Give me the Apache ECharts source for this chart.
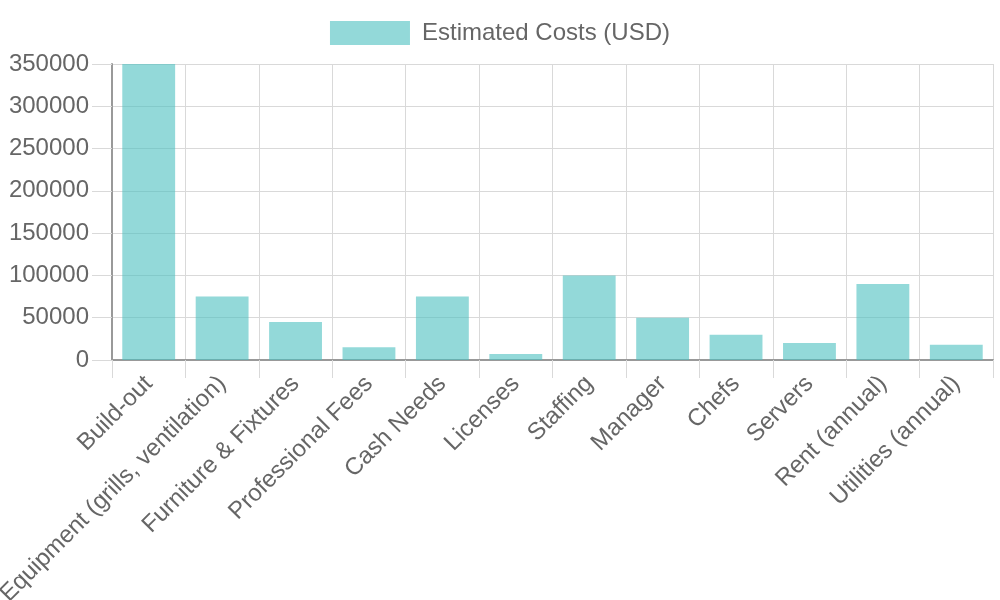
<!DOCTYPE html>
<html>
<head>
<meta charset="utf-8">
<script src="https://cdn.jsdelivr.net/npm/echarts@6/dist/echarts.min.js"></script>
<style>
  html, body { margin: 0; padding: 0; background: #fff; }
  #chart { width: 1000px; height: 600px; }
</style>
</head>
<body>
<div id="chart"></div>
<script>
// categories and values
const categories = ['Build-out', 'Equipment (grills, ventilation)', 'Furniture & Fixtures',
  'Professional Fees', 'Cash Needs', 'Licenses', 'Staffing', 'Manager', 'Chefs',
  'Servers', 'Rent (annual)', 'Utilities (annual)'];
const costs = [350000, 75000, 45000, 15000, 75000, 7000, 100000, 50000, 30000, 20000, 90000, 18000];
const yTicks = { min: 0, max: 350000, interval: 50000 };

const textColor = '#666';
const fontFamily = 'Liberation Sans, Arial, sans-serif';

let chart = echarts.init(document.getElementById('chart'));
chart.setOption({
  animation: false,
  textStyle: { fontFamily: fontFamily },
  legend: {
    top: 16,
    left: 'center',
    icon: 'rect',
    itemWidth: 80,
    itemHeight: 24,
    textStyle: { fontSize: 24, color: textColor, fontFamily: fontFamily, padding: [0, 0, 0, 7] },
    data: ['Estimated Costs (USD)']
  },
  grid: { left: 112, right: 7, top: 64, bottom: 240, containLabel: false, outerBoundsMode: 'none' },
  xAxis: {
    type: 'category',
    data: categories,
    boundaryGap: true,
    axisLine: { lineStyle: { color: '#999', width: 2 } },
    axisTick: { show: true, length: 18, alignWithLabel: false, lineStyle: { color: '#d9d9d9' } },
    splitLine: { show: true, lineStyle: { color: '#d9d9d9' } },
    axisLabel: {
      rotate: 45,
      interval: 0,
      margin: 20,
      fontSize: 24,
      color: textColor,
      fontFamily: fontFamily
    }
  },
  yAxis: {
    type: 'value',
    min: yTicks.min,
    max: yTicks.max,
    interval: yTicks.interval,
    axisLine: { show: true, lineStyle: { color: '#999', width: 2 } },
    axisTick: { show: true, length: 20, lineStyle: { color: '#d9d9d9' } },
    splitLine: { lineStyle: { color: '#d9d9d9' } },
    axisLabel: {
      margin: 23, fontSize: 24, color: textColor, fontFamily: fontFamily,
      formatter: function (value) { return String(value); }
    }
  },
  series: [{
    name: 'Estimated Costs (USD)',
    type: 'bar',
    data: costs,
    barCategoryGap: '28%',
    itemStyle: { color: 'rgba(75, 192, 192, 0.6)' }
  }]
});
</script>
</body>
</html>
